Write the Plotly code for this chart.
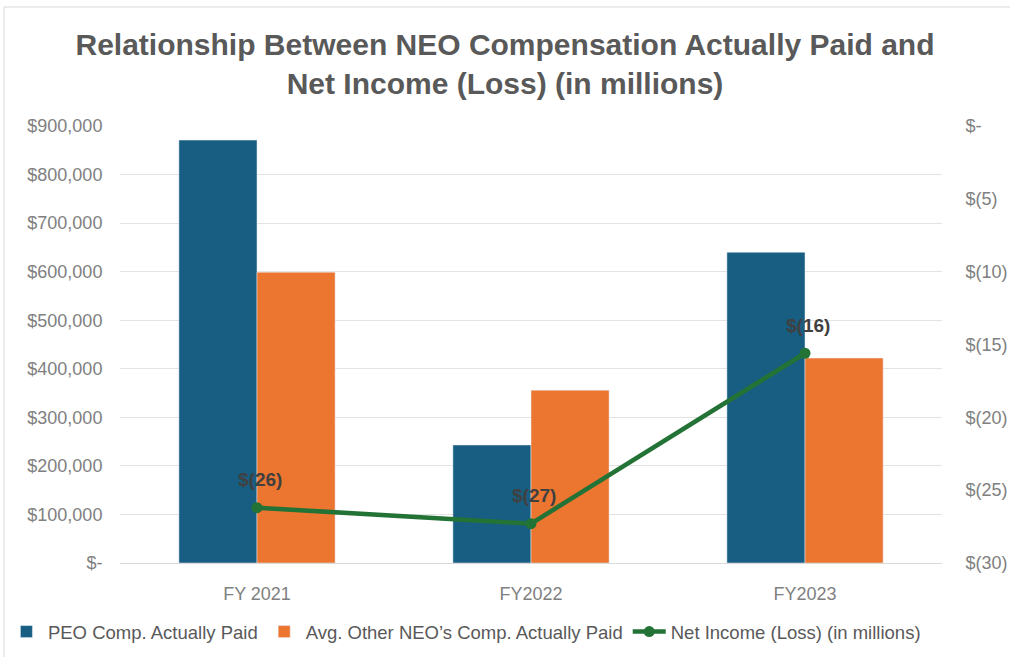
import plotly.graph_objects as go

categories = ["FY 2021", "FY2022", "FY2023"]
peo_cap = [871000, 243000, 640000]
neo_cap = [599000, 356000, 422000]
net_income = [-26.2, -27.3, -15.6]
net_income_labels = ["$(26)", "$(27)", "$(16)"]

left_ticks = [0, 100000, 200000, 300000, 400000, 500000, 600000, 700000, 800000, 900000]
left_ticktext = ["$-", "$100,000", "$200,000", "$300,000", "$400,000", "$500,000",
                 "$600,000", "$700,000", "$800,000", "$900,000"]
right_ticks = [-30, -25, -20, -15, -10, -5, 0]
right_ticktext = ["$(30)", "$(25)", "$(20)", "$(15)", "$(10)", "$(5)", "$-"]

FONT = "Liberation Sans, Arial, sans-serif"
GREY = "#808080"

fig = go.Figure()
fig.add_trace(go.Bar(x=categories, y=peo_cap, name="PEO Comp. Actually Paid",
                     marker_color="#185E82", yaxis="y"))
fig.add_trace(go.Bar(x=categories, y=neo_cap, name="Avg. Other NEO\u2019s Comp. Actually Paid",
                     marker_color="#EC7530", yaxis="y"))
fig.add_trace(go.Scatter(x=categories, y=net_income, name="Net Income (Loss) (in millions)",
                         mode="lines+markers", yaxis="y2",
                         line=dict(color="#237236", width=4.5),
                         marker=dict(color="#237236", size=11)))

for cat, val, lab in zip(categories, net_income, net_income_labels):
    fig.add_annotation(x=cat, y=val, xref="x", yref="y2", text="<b>%s</b>" % lab,
                       showarrow=False, yshift=28, xshift=3,
                       font=dict(family=FONT, size=19, color="#404040"))

fig.update_layout(
    width=1010, height=657,
    margin=dict(l=120, r=68, t=126, b=94, autoexpand=False),
    paper_bgcolor="white", plot_bgcolor="white",
    font=dict(family=FONT, color=GREY),
    title=dict(text="<b>Relationship Between NEO Compensation Actually Paid and<br>Net Income (Loss) (in millions)</b>",
               x=0.5, xanchor="center", y=0.917, yanchor="top",
               font=dict(family=FONT, size=30, color="#595959")),
    barmode="group", bargap=0.43, bargroupgap=0,
    xaxis=dict(showgrid=False, showline=True, linecolor="#D9D9D9", linewidth=1,
               tickfont=dict(family=FONT, size=18, color=GREY), automargin=False,
               ticks="outside", ticklen=14, tickcolor="white"),
    yaxis=dict(range=[0, 900000], tickvals=left_ticks, ticktext=left_ticktext,
               showgrid=True, gridcolor="#E3E3E3", gridwidth=1, zeroline=False,
               tickfont=dict(family=FONT, size=18, color=GREY), ticklen=13,
               ticks="outside", tickcolor="white", automargin=False),
    yaxis2=dict(range=[-30, 0], tickvals=right_ticks, ticktext=right_ticktext,
                overlaying="y", side="right", showgrid=False, zeroline=False,
                tickfont=dict(family=FONT, size=18, color=GREY), ticklen=19,
                ticks="outside", tickcolor="white", automargin=False),
    legend=dict(orientation="h", x=-0.14, xanchor="left", y=-0.158, yanchor="middle",
                font=dict(family=FONT, size=18.5, color="#595959"),
                traceorder="normal", itemwidth=33),
    showlegend=True,
)

fig.add_shape(type="rect", xref="paper", yref="paper",
              x0=-0.1411, x1=1.2, y0=-0.3, y1=1.2723,
              line=dict(color="#D9D9D9", width=1), layer="below")

fig.write_html("out.html")
